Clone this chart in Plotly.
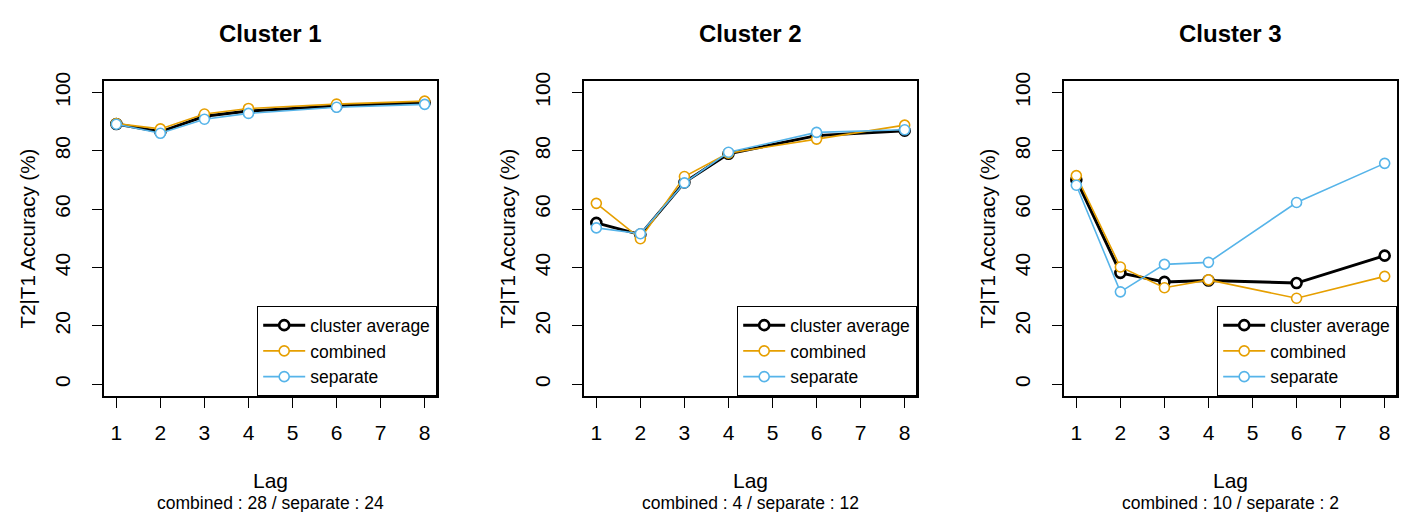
import plotly.graph_objects as go

lags = [1, 2, 3, 4, 6, 8]
x_ticks = [1, 2, 3, 4, 5, 6, 7, 8]
y_ticks = [0, 20, 40, 60, 80, 100]

titles = ["Cluster 1", "Cluster 2", "Cluster 3"]
subtitles = ["combined : 28 / separate : 24",
             "combined : 4 / separate : 12",
             "combined : 10 / separate : 2"]

# cluster average / combined / separate per cluster
avg_c1 = [89.2, 86.5, 91.8, 93.6, 95.3, 96.5]
comb_c1 = [89.3, 87.5, 92.6, 94.5, 96.0, 97.0]
sep_c1 = [89.1, 86.0, 90.8, 92.8, 94.9, 95.9]

avg_c2 = [55.3, 51.3, 69.2, 79.0, 85.2, 86.9]
comb_c2 = [62.0, 49.9, 71.2, 79.2, 84.0, 88.8]
sep_c2 = [53.6, 51.6, 69.0, 79.5, 86.3, 87.2]

avg_c3 = [70.1, 38.2, 35.1, 35.6, 34.7, 44.1]
comb_c3 = [71.5, 40.2, 33.1, 35.8, 29.5, 37.0]
sep_c3 = [68.2, 31.7, 41.1, 41.8, 62.3, 75.7]

series_names = ["cluster average", "combined", "separate"]
colors = ["#000000", "#E69F00", "#56B4E9"]
line_w = [3, 1.6, 1.6]
mk_w = [2.6, 1.6, 1.6]

data = [(avg_c1, comb_c1, sep_c1), (avg_c2, comb_c2, sep_c2), (avg_c3, comb_c3, sep_c3)]

W, H = 1401, 512
FONT = "Liberation Sans, Arial, sans-serif"

# panel box pixel positions
box_left = [104, 584, 1064]
box_right = [437, 917, 1397]
box_top, box_bottom = 73, 394

fig = go.Figure()
layout = dict(
    width=W, height=H, autosize=False,
    margin=dict(l=0, r=0, t=0, b=0),
    paper_bgcolor="white", plot_bgcolor="white",
    font=dict(family=FONT, size=17, color="black"),
    showlegend=True,
)

annotations = []
for i in range(3):
    ax = "" if i == 0 else str(i + 1)
    xa = "x" + ax
    ya = "y" + ax
    leg = "legend" if i == 0 else "legend" + str(i + 1)
    for k in range(3):
        fig.add_trace(go.Scatter(
            x=lags, y=data[i][k], mode="lines+markers", name=series_names[k],
            xaxis=xa, yaxis=ya, legend=leg,
            line=dict(color=colors[k], width=line_w[k]),
            marker=dict(symbol="circle", size=10, color="white",
                        line=dict(color=colors[k], width=mk_w[k])),
            hoverinfo="x+y",
        ))
    dx = [box_left[i] / W, box_right[i] / W]
    dy = [1 - box_bottom / H, 1 - box_top / H]
    layout["xaxis" + ax] = dict(
        domain=dx, range=[0.72, 8.28], anchor=ya,
        tickmode="array", tickvals=x_ticks, ticktext=[str(v) for v in x_ticks],
        ticks="outside", ticklen=10, tickwidth=1.2, tickcolor="black",
        showline=True, mirror=True, linecolor="black", linewidth=1.5,
        showgrid=False, zeroline=False, tickfont=dict(size=21),
        ticklabelstandoff=7,
    )
    layout["yaxis" + ax] = dict(
        domain=dy, range=[-4, 104], anchor=xa,
        tickmode="array", tickvals=y_ticks, ticktext=[str(v) for v in y_ticks],
        ticks="outside", ticklen=10, tickwidth=1.2, tickcolor="black",
        showline=True, mirror=True, linecolor="black", linewidth=1.5,
        showgrid=False, zeroline=False, tickangle=-90, tickfont=dict(size=21),
        ticklabelstandoff=14,
    )
    layout[leg] = dict(
        x=box_right[i] / W, y=1 - box_bottom / H, xanchor="right", yanchor="bottom",
        xref="paper", yref="paper",
        bordercolor="black", borderwidth=1.2, bgcolor="white",
        font=dict(family=FONT, size=17.5), tracegroupgap=0,
        itemwidth=42,
    )
    cx = (box_left[i] + box_right[i]) / 2 / W
    annotations.append(dict(text="<b>" + titles[i] + "</b>", x=cx, y=1 - 25 / H,
                            xref="paper", yref="paper", showarrow=False,
                            font=dict(size=24), xanchor="center", yanchor="middle"))
    annotations.append(dict(text="Lag", x=cx, y=1 - 480 / H,
                            xref="paper", yref="paper", showarrow=False,
                            font=dict(size=21), xanchor="center", yanchor="middle"))
    annotations.append(dict(text=subtitles[i], x=cx, y=1 - 503 / H,
                            xref="paper", yref="paper", showarrow=False,
                            font=dict(size=17.5), xanchor="center", yanchor="middle"))
    annotations.append(dict(text="T2|T1 Accuracy (%)", x=(box_left[i] - 77) / W,
                            y=1 - (box_top + box_bottom) / 2 / H,
                            xref="paper", yref="paper", showarrow=False, textangle=-90,
                            font=dict(size=20.5), xanchor="center", yanchor="middle"))

layout["annotations"] = annotations
fig.update_layout(**layout)
fig.write_html("out.html", config={"displayModeBar": False},
               post_script="document.body.style.margin='0';document.body.style.overflow='hidden';")
